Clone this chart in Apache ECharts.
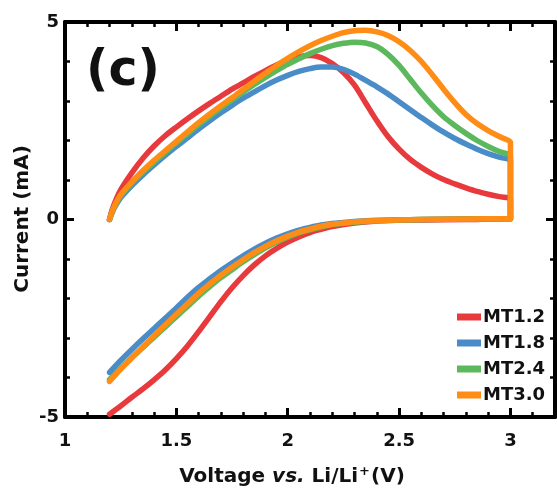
<!DOCTYPE html>
<html>
<head>
<meta charset="utf-8">
<script src="https://cdn.jsdelivr.net/npm/echarts@6/dist/echarts.min.js"></script>
<style>html,body{margin:0;padding:0;background:#fff;}#c{width:557px;height:491px;}</style>
</head>
<body>
<div id="c"></div>
<script>
// ---- Data (Voltage V, Current mA) ----
const seriesNames = ['MT1.2', 'MT1.8', 'MT2.4', 'MT3.0'];
const xTickValues = [1, 1.5, 2, 2.5, 3];
const yTickValues = [-5, 0, 5];

// anodic (upper) branches, 1.2 V -> 3.0 V
const mt12Up = [[1.2,0],[1.21,0.22],[1.225,0.45],[1.25,0.75],[1.3,1.18],[1.35,1.55],[1.4,1.86],[1.45,2.12],[1.5,2.34],[1.55,2.55],[1.6,2.75],[1.65,2.94],[1.7,3.12],[1.75,3.3],[1.8,3.46],[1.85,3.62],[1.9,3.77],[1.95,3.91],[2.0,4.03],[2.05,4.12],[2.1,4.15],[2.15,4.1],[2.2,3.95],[2.25,3.72],[2.3,3.4],[2.35,2.95],[2.4,2.5],[2.45,2.1],[2.5,1.78],[2.55,1.52],[2.6,1.32],[2.65,1.15],[2.7,1.01],[2.75,0.9],[2.8,0.8],[2.85,0.71],[2.9,0.64],[2.95,0.58],[3.0,0.53]];
const mt18Up = [[1.2,0],[1.21,0.15],[1.225,0.33],[1.25,0.55],[1.3,0.86],[1.35,1.13],[1.4,1.38],[1.45,1.62],[1.5,1.85],[1.55,2.07],[1.6,2.29],[1.65,2.5],[1.7,2.7],[1.75,2.89],[1.8,3.07],[1.85,3.23],[1.9,3.39],[1.95,3.53],[2.0,3.65],[2.05,3.75],[2.1,3.82],[2.15,3.86],[2.2,3.86],[2.25,3.8],[2.3,3.68],[2.35,3.52],[2.4,3.36],[2.45,3.18],[2.5,2.98],[2.55,2.78],[2.6,2.58],[2.65,2.39],[2.7,2.21],[2.75,2.05],[2.8,1.91],[2.85,1.78],[2.9,1.67],[2.95,1.58],[3.0,1.5]];
const mt24Up = [[1.2,0],[1.21,0.17],[1.225,0.36],[1.25,0.6],[1.3,0.92],[1.35,1.2],[1.4,1.46],[1.45,1.7],[1.5,1.94],[1.55,2.17],[1.6,2.4],[1.65,2.62],[1.7,2.83],[1.75,3.03],[1.8,3.23],[1.85,3.42],[1.9,3.6],[1.95,3.77],[2.0,3.93],[2.05,4.07],[2.1,4.2],[2.15,4.31],[2.2,4.4],[2.25,4.46],[2.3,4.49],[2.35,4.47],[2.4,4.38],[2.45,4.18],[2.5,3.9],[2.55,3.55],[2.6,3.2],[2.65,2.88],[2.7,2.6],[2.75,2.38],[2.8,2.18],[2.85,2.0],[2.9,1.85],[2.95,1.72],[3.0,1.62]];
const mt30Up = [[1.2,0],[1.21,0.18],[1.225,0.38],[1.25,0.63],[1.3,0.95],[1.35,1.24],[1.4,1.5],[1.45,1.74],[1.5,1.98],[1.55,2.22],[1.6,2.45],[1.65,2.67],[1.7,2.88],[1.75,3.08],[1.8,3.29],[1.85,3.5],[1.9,3.7],[1.95,3.9],[2.0,4.08],[2.05,4.25],[2.1,4.4],[2.15,4.53],[2.2,4.64],[2.25,4.73],[2.3,4.78],[2.35,4.79],[2.4,4.75],[2.45,4.66],[2.5,4.5],[2.55,4.28],[2.6,4.0],[2.65,3.66],[2.7,3.3],[2.75,2.96],[2.8,2.66],[2.85,2.43],[2.9,2.25],[2.95,2.1],[3.0,1.95]];

// switching at 3.0 V and cathodic (lower) branches, 3.0 V -> 1.2 V
const mt12Down = [[3.0,0.47],[3.0,0.07],[3.0,0.02],[2.98,0.02],[2.8,0.0],[2.6,-0.01],[2.5,-0.02],[2.4,-0.04],[2.3,-0.09],[2.2,-0.18],[2.15,-0.25],[2.1,-0.33],[2.05,-0.44],[2.0,-0.57],[1.95,-0.73],[1.9,-0.92],[1.85,-1.15],[1.8,-1.42],[1.75,-1.73],[1.7,-2.08],[1.65,-2.46],[1.6,-2.84],[1.55,-3.2],[1.5,-3.52],[1.45,-3.81],[1.4,-4.06],[1.35,-4.29],[1.3,-4.5],[1.25,-4.72],[1.2,-4.93]];
const mt18Down = [[3.0,1.45],[3.0,0.07],[3.0,0.02],[2.98,0.02],[2.8,0.01],[2.6,0.0],[2.5,-0.01],[2.4,-0.02],[2.3,-0.05],[2.2,-0.1],[2.15,-0.14],[2.1,-0.2],[2.05,-0.27],[2.0,-0.36],[1.95,-0.47],[1.9,-0.6],[1.85,-0.75],[1.8,-0.92],[1.75,-1.1],[1.7,-1.29],[1.65,-1.5],[1.6,-1.72],[1.55,-1.97],[1.5,-2.24],[1.45,-2.5],[1.4,-2.76],[1.35,-3.02],[1.3,-3.29],[1.25,-3.57],[1.2,-3.87]];
const mt24Down = [[3.0,1.57],[3.0,0.07],[3.0,0.02],[2.98,0.02],[2.8,0.01],[2.6,0.0],[2.5,-0.01],[2.4,-0.03],[2.3,-0.07],[2.2,-0.13],[2.15,-0.19],[2.1,-0.26],[2.05,-0.34],[2.0,-0.45],[1.95,-0.57],[1.9,-0.72],[1.85,-0.89],[1.8,-1.07],[1.75,-1.27],[1.7,-1.47],[1.65,-1.7],[1.6,-1.94],[1.55,-2.2],[1.5,-2.46],[1.45,-2.72],[1.4,-2.98],[1.35,-3.24],[1.3,-3.5],[1.25,-3.77],[1.2,-4.05]];
const mt30Down = [[3.0,1.9],[3.0,0.07],[3.0,0.02],[2.98,0.02],[2.8,0.01],[2.6,0.0],[2.5,-0.01],[2.4,-0.03],[2.3,-0.06],[2.2,-0.12],[2.15,-0.17],[2.1,-0.24],[2.05,-0.32],[2.0,-0.42],[1.95,-0.54],[1.9,-0.68],[1.85,-0.84],[1.8,-1.02],[1.75,-1.21],[1.7,-1.41],[1.65,-1.63],[1.6,-1.87],[1.55,-2.13],[1.5,-2.4],[1.45,-2.67],[1.4,-2.94],[1.35,-3.22],[1.3,-3.5],[1.25,-3.79],[1.2,-4.1]];

const branches = [[mt12Up, mt12Down], [mt18Up, mt18Down], [mt24Up, mt24Down], [mt30Up, mt30Down]];
const colors = ['#e8393c', '#4a8cc7', '#5cb85c', '#ff8c14'];

const FONT = 'DejaVu Sans';
const chart = echarts.init(document.getElementById('c'), null, {renderer: 'canvas'});

function xAxis(pos, show) {
  return {
    type: 'value', position: pos, min: 1, max: 3.2, interval: 0.5,
    axisLine: {show: true, onZero: false, lineStyle: {color: '#000', width: 4}},
    axisTick: {show: true, inside: true, length: 9, lineStyle: {color: '#000', width: 3}},
    minorTick: {show: true, splitNumber: 5, length: 5, lineStyle: {color: '#000', width: 2.5}},
    splitLine: {show: false}, minorSplitLine: {show: false},
    axisLabel: {show: show, showMaxLabel: false, margin: 15, fontSize: 18, fontWeight: 'bold', fontFamily: FONT, color: '#111',
      formatter: v => xTickValues.indexOf(v) >= 0 ? String(v) : ''}
  };
}
function yAxis(pos, show) {
  return {
    type: 'value', position: pos, min: -5, max: 5, interval: 5,
    axisLine: {show: true, onZero: false, lineStyle: {color: '#000', width: 4}},
    axisTick: {show: true, inside: true, length: 9, lineStyle: {color: '#000', width: 3}},
    minorTick: {show: true, splitNumber: 5, length: 5, lineStyle: {color: '#000', width: 2.5}},
    splitLine: {show: false}, minorSplitLine: {show: false},
    axisLabel: {show: show, margin: 6, fontSize: 18, fontWeight: 'bold', fontFamily: FONT, color: '#111',
      formatter: v => yTickValues.indexOf(v) >= 0 ? String(v) : ''}
  };
}

const option = {
  animation: false,
  backgroundColor: '#fff',
  grid: {left: 65, right: 2, top: 22, bottom: 74, containLabel: false, outerBoundsMode: 'none'},
  xAxis: [xAxis('bottom', true), xAxis('top', false)],
  yAxis: [yAxis('left', true), yAxis('right', false)],
  legend: {
    orient: 'vertical', left: 452, top: 303, itemWidth: 24, itemHeight: 7, itemGap: 8, icon: 'rect',
    data: seriesNames,
    textStyle: {fontSize: 18, fontWeight: 'bold', fontFamily: FONT, color: '#111', padding: [0, 0, 0, -3]}
  },
  series: seriesNames.map((name, i) => ({
    name: name, type: 'line', xAxisIndex: 0, yAxisIndex: 0,
    data: branches[i][0].concat(branches[i][1]),
    showSymbol: false, symbol: 'none', smooth: 0.3,
    color: colors[i],
    lineStyle: {width: 5.5, color: colors[i], join: 'round', cap: 'round'},
    z: 2 + i
  })),
  graphic: [
    {type: 'text', left: 86, top: 48, style: {text: '(c)', font: 'bold 49px "DejaVu Sans"', fill: '#111'}},
    {type: 'text', x: 23, y: 219, rotation: Math.PI / 2,
      style: {text: 'Current (mA)', font: 'bold 20px "DejaVu Sans"', fill: '#111', align: 'center', verticalAlign: 'middle'}},
    {type: 'text', x: 292, y: 477,
      style: {
        text: '{b|Voltage }{i|vs.}{b| Li/Li}{s|+}{b|(V)}',
        align: 'center', verticalAlign: 'middle',
        rich: {
          b: {fontSize: 20, fontWeight: 'bold', fontFamily: FONT, fill: '#111', lineHeight: 24},
          i: {fontSize: 20, fontWeight: 'bold', fontStyle: 'italic', fontFamily: FONT, fill: '#111', lineHeight: 24},
          s: {fontSize: 13, fontWeight: 'bold', fontFamily: FONT, fill: '#111', verticalAlign: 'top', lineHeight: 24, padding: [0, 1, 10, 1]}
        }
      }}
  ]
};
chart.setOption(option);
</script>
</body>
</html>
